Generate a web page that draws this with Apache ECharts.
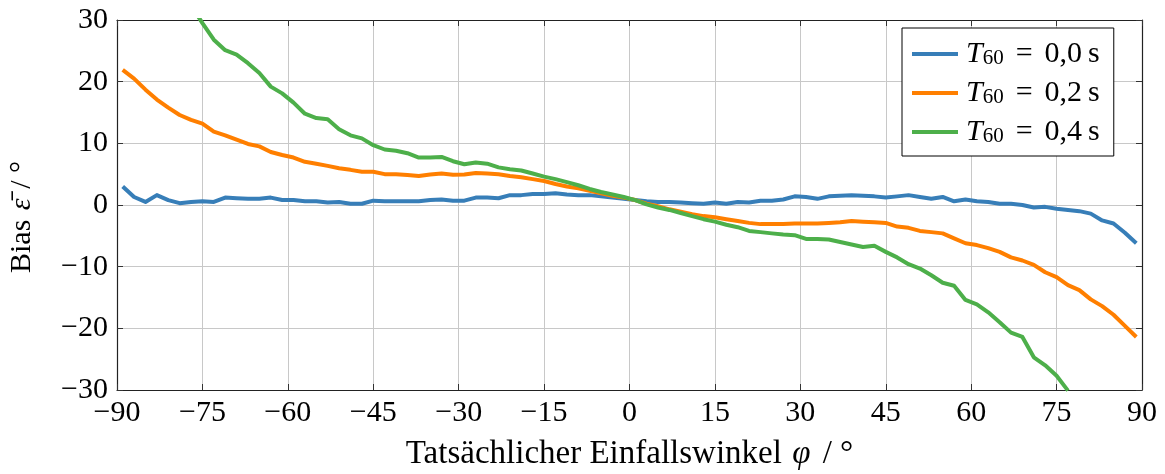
<!DOCTYPE html>
<html>
<head>
<meta charset="utf-8">
<script src="https://cdn.jsdelivr.net/npm/echarts@6/dist/echarts.min.js"></script>
<style>
  html, body { margin: 0; padding: 0; background: #fff; }
  #chart { width: 1165px; height: 474px; }
</style>
</head>
<body>
<div id="chart"></div>
<script>
// True angle of incidence in degrees (2° steps)
const angles = [
  -89, -87, -85, -83, -81, -79, -77, -75, -73, -71, -69, -67, -65, -63, -61,
  -59, -57, -55, -53, -51, -49, -47, -45, -43, -41, -39, -37, -35, -33, -31,
  -29, -27, -25, -23, -21, -19, -17, -15, -13, -11, -9, -7, -5, -3, -1,
  1, 3, 5, 7, 9, 11, 13, 15, 17, 19, 21, 23, 25, 27, 29,
  31, 33, 35, 37, 39, 41, 43, 45, 47, 49, 51, 53, 55, 57, 59,
  61, 63, 65, 67, 69, 71, 73, 75, 77, 79, 81, 83, 85, 87, 89
];

// Mean bias in degrees for T60 = 0.0 s
const biasT00 = [
  3.0, 1.3, 0.5, 1.6, 0.8, 0.3, 0.5, 0.6, 0.5, 1.2, 1.1, 1.0, 1.0, 1.2, 0.8,
  0.8, 0.6, 0.6, 0.4, 0.5, 0.2, 0.2, 0.7, 0.6, 0.6, 0.6, 0.6, 0.8, 0.9, 0.7,
  0.7, 1.2, 1.2, 1.1, 1.6, 1.6, 1.8, 1.8, 1.9, 1.7, 1.6, 1.6, 1.4, 1.2, 1.0,
  0.8, 0.6, 0.5, 0.5, 0.4, 0.3, 0.2, 0.4, 0.2, 0.5, 0.4, 0.7, 0.7, 0.9, 1.4,
  1.3, 1.0, 1.4, 1.5, 1.6, 1.5, 1.4, 1.2, 1.4, 1.6, 1.3, 1.0, 1.3, 0.6, 0.9,
  0.6, 0.5, 0.2, 0.2, 0.0, -0.4, -0.3, -0.6, -0.8, -1.0, -1.4, -2.5, -3.0, -4.5, -6.2
];

// Mean bias in degrees for T60 = 0.2 s
const biasT02 = [
  21.9, 20.5, 18.7, 17.1, 15.8, 14.6, 13.8, 13.2, 11.9, 11.3, 10.6, 9.9, 9.5, 8.6, 8.1,
  7.7, 7.0, 6.7, 6.35, 5.95, 5.7, 5.4, 5.4, 5.0, 5.0, 4.85, 4.7, 4.95, 5.1, 4.9,
  4.95, 5.2, 5.1, 5.0, 4.7, 4.5, 4.2, 3.9, 3.4, 3.0, 2.7, 2.3, 1.9, 1.5, 1.2,
  0.8, 0.2, -0.2, -0.7, -1.1, -1.5, -1.8, -2.0, -2.3, -2.6, -2.9, -3.1, -3.1, -3.1, -3.0,
  -3.0, -3.0, -2.9, -2.8, -2.6, -2.7, -2.8, -2.9, -3.5, -3.7, -4.2, -4.4, -4.6, -5.4, -6.2,
  -6.5, -7.0, -7.6, -8.5, -9.0, -9.7, -10.9, -11.7, -13.0, -13.8, -15.3, -16.4, -17.8, -19.6, -21.4
];

// Mean bias in degrees for T60 = 0.4 s (outside the plotted range at the ends)
const biasT04 = [
  null, null, null, null, null, null, 32.4, 29.5, 26.8, 25.1, 24.4, 23.0, 21.4, 19.2, 18.1,
  16.6, 14.8, 14.1, 13.9, 12.3, 11.3, 10.8, 9.7, 9.0, 8.8, 8.4, 7.7, 7.7, 7.8, 7.1,
  6.6, 6.9, 6.7, 6.1, 5.8, 5.6, 5.1, 4.6, 4.2, 3.7, 3.2, 2.6, 2.1, 1.7, 1.3,
  0.8, 0.1, -0.4, -0.8, -1.3, -1.8, -2.3, -2.7, -3.2, -3.6, -4.2, -4.4, -4.6, -4.8, -4.9,
  -5.5, -5.5, -5.6, -6.0, -6.4, -6.8, -6.6, -7.6, -8.5, -9.6, -10.3, -11.4, -12.6, -13.1, -15.4,
  -16.1, -17.4, -19.0, -20.7, -21.4, -24.7, -26.0, -27.7, -30.1, null, null, null, null, null, null
];

// Reverberation times shown in the legend
const t60Labels = ['0,0', '0,2', '0,4'];
const seriesColors = ['#377eb8', '#ff7f00', '#4daf4a'];

// Axis ranges and tick spacing
const xRange = [-90, 90], xStep = 15;
const yRange = [-30, 30], yStep = 10;

const FONT = '"Liberation Serif", "DejaVu Serif", serif';
const minus = v => String(v).replace('-', '\u2212');

const pairs = vals => angles.map((a, i) => [a, vals[i]]).filter(p => p[1] !== null);
const allBias = [biasT00, biasT02, biasT04];

const tickStyle = { show: true, inside: true, length: 6, lineStyle: { color: '#333', width: 1 } };
const frameLine = { show: true, onZero: false, lineStyle: { color: '#222', width: 1.2 } };
const gridLine = { show: true, lineStyle: { color: '#c8c8c8', width: 1 } };

const chart = echarts.init(document.getElementById('chart'), null, { renderer: 'canvas' });

chart.setOption({
  animation: false,
  backgroundColor: '#fff',
  textStyle: { fontFamily: FONT },
  grid: { left: 117, right: 23, top: 20, bottom: 84, containLabel: false, outerBoundsMode: 'none' },
  xAxis: [
    {
      type: 'value', min: xRange[0], max: xRange[1], interval: xStep,
      axisLine: frameLine, axisTick: tickStyle, splitLine: gridLine,
      axisLabel: { margin: 8, fontSize: 30, color: '#000', fontFamily: FONT, formatter: minus },
      name: '{n|Tatsächlicher Einfallswinkel }{i|φ}{n| / °}',
      nameLocation: 'middle', nameGap: 48,
      nameTextStyle: {
        rich: {
          n: { fontSize: 33, fontFamily: FONT, color: '#000' },
          i: { fontSize: 33, fontFamily: FONT, fontStyle: 'italic', color: '#000', padding: [0, 4, 0, 2] }
        }
      }
    },
    {
      type: 'value', position: 'top', min: xRange[0], max: xRange[1], interval: xStep,
      axisLine: frameLine, axisTick: tickStyle, splitLine: { show: false },
      axisLabel: { show: false }
    }
  ],
  yAxis: [
    {
      type: 'value', min: yRange[0], max: yRange[1], interval: yStep,
      axisLine: frameLine, axisTick: tickStyle, splitLine: gridLine,
      axisLabel: { margin: 9, fontSize: 30, color: '#000', fontFamily: FONT, formatter: minus },
      name: '{n|Bias }{i|ε\u0304}{n| / °}',
      nameLocation: 'middle', nameGap: 80, nameRotate: 90,
      nameTextStyle: {
        padding: [0, 24, 0, 0],
        rich: {
          n: { fontSize: 30, fontFamily: FONT, color: '#000' },
          i: { fontSize: 30, fontFamily: FONT, fontStyle: 'italic', color: '#000', padding: [0, 2, 0, 2] }
        }
      }
    },
    {
      type: 'value', position: 'right', min: yRange[0], max: yRange[1], interval: yStep,
      axisLine: frameLine, axisTick: tickStyle, splitLine: { show: false },
      axisLabel: { show: false }
    }
  ],
  legend: {
    orient: 'vertical', left: 902, top: 28,
    padding: [9, 14, 9, 10], itemGap: 7,
    itemWidth: 46, itemHeight: 4, icon: 'rect',
    borderColor: '#000', borderWidth: 1, backgroundColor: '#fff',
    data: t60Labels.map(t => 'T60 = ' + t + ' s'),
    formatter: name => {
      const t = name.replace('T60 = ', '').replace(' s', '');
      return '{it|T}{sub|60}{eq|=}{n|' + t + '}{s|s}';
    },
    textStyle: {
      fontFamily: FONT, color: '#000', lineHeight: 30,
      rich: {
        it: { fontSize: 30, fontStyle: 'italic', fontFamily: FONT, padding: [0, 0, 0, 3], lineHeight: 30 },
        sub: { fontSize: 21, fontFamily: FONT, verticalAlign: 'bottom', lineHeight: 22, padding: [11, 0, 0, 0] },
        eq: { fontSize: 30, fontFamily: FONT, padding: [0, 12, 0, 12], lineHeight: 30 },
        n: { fontSize: 30, fontFamily: FONT, lineHeight: 30 },
        s: { fontSize: 30, fontFamily: FONT, padding: [0, 0, 0, 6], lineHeight: 30 }
      }
    }
  },
  series: allBias.map((vals, k) => ({
    name: 'T60 = ' + t60Labels[k] + ' s',
    type: 'line',
    xAxisIndex: 0, yAxisIndex: 0,
    data: pairs(vals),
    symbol: 'none', showSymbol: false,
    clip: true,
    color: seriesColors[k],
    lineStyle: { width: 4, color: seriesColors[k], join: 'round' },
    z: 3 + k
  }))
});
</script>
</body>
</html>
